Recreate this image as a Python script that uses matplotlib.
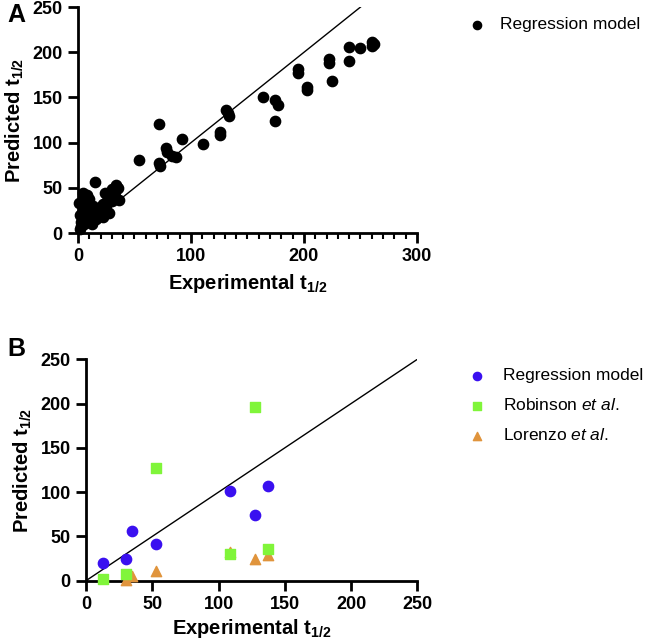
import matplotlib
matplotlib.use('Agg')
import matplotlib.pyplot as plt
from matplotlib.ticker import MultipleLocator

plt.rcParams['font.family'] = ['Liberation Sans', 'DejaVu Sans']
plt.rcParams['mathtext.fontset'] = 'custom'
plt.rcParams['mathtext.rm'] = 'Liberation Sans'
plt.rcParams['mathtext.bf'] = 'Liberation Sans:bold'
plt.rcParams['mathtext.it'] = 'Liberation Sans:italic'

# Panel A: regression model, experimental vs predicted half-life
a_exp = [260, 260, 262, 250, 240, 240, 222, 222, 225, 203, 203, 195, 195,
         174, 177, 164, 174, 131, 133, 134, 126, 126, 111, 92, 72, 54, 78,
         79, 83, 87, 72, 73,
         15, 34, 30, 24, 32, 33, 36, 28, 25, 20, 18, 22, 12, 10, 8, 5, 3, 2,
         1, 4, 6, 9, 14, 16, 19, 23, 27, 30, 11, 13, 7, 2, 3, 5, 17, 21, 26,
         29, 31, 35, 10, 8, 6, 4, 12, 15, 18, 22, 25]
a_pred = [211, 207, 209, 205, 206, 190, 192, 188, 168, 162, 158, 182, 177,
          147, 142, 150, 124, 136, 133, 130, 112, 108, 98, 104, 121, 81, 94,
          90, 85, 84, 78, 74,
          56, 53, 49, 44, 40, 45, 37, 35, 30, 26, 22, 32, 28, 20, 14, 10, 8,
          5, 33, 44, 38, 25, 18, 15, 24, 28, 22, 36, 12, 30, 18, 20, 12, 24,
          26, 30, 36, 42, 47, 50, 38, 42, 30, 36, 10, 16, 20, 18, 26]

# Panel B: comparison with literature models
b_reg_x = [13, 30, 35, 52.5, 109, 127.5, 137]
b_reg_y = [19.5, 24.5, 56.5, 42, 101, 74, 107.5]
b_rob_x = [13, 30, 52.5, 109, 127.5, 137]
b_rob_y = [1.5, 8, 127, 30, 196, 35.5]
b_lor_x = [30, 35, 52.5, 109, 127.5, 137]
b_lor_y = [1, 5, 11, 32, 25, 29]

fig = plt.figure(figsize=(6.5, 6.42), dpi=100)
axA = fig.add_axes([0.12, 0.637, 0.5215, 0.352])
axB = fig.add_axes([0.1323, 0.0955, 0.5097, 0.3448])


def style_axes(ax):
    for s in ['top', 'right']:
        ax.spines[s].set_visible(False)
    for s in ['left', 'bottom']:
        ax.spines[s].set_linewidth(2)
    ax.tick_params(which='major', length=7, width=2, labelsize=13, pad=4)
    ax.tick_params(which='minor', length=4, width=1.5)
    for lab in ax.get_xticklabels() + ax.get_yticklabels():
        lab.set_fontweight('bold')


# ---- A ----
axA.plot([0, 250], [0, 250], color='black', lw=1, zorder=1)
axA.scatter(a_exp, a_pred, s=55, color='black', zorder=3, clip_on=False,
            label='Regression model')
axA.set_xlim(0, 300)
axA.set_ylim(0, 250)
axA.xaxis.set_major_locator(MultipleLocator(100))
axA.xaxis.set_minor_locator(MultipleLocator(10))
axA.yaxis.set_major_locator(MultipleLocator(50))
style_axes(axA)
axA.set_xlabel(r'$\mathbf{Experimental\ t}_{\mathbf{1/2}}$', fontsize=14.5, labelpad=5)
axA.set_ylabel(r'$\mathbf{Predicted\ t}_{\mathbf{1/2}}$', fontsize=14.5, labelpad=5)
axA.legend(loc='upper left', bbox_to_anchor=(1.08, 1.025), frameon=False,
           fontsize=12.5, handletextpad=0.3, markerscale=0.8)
fig.text(0.012, 0.966, 'A', fontsize=18, fontweight='bold')

# ---- B ----
axB.plot([0, 250], [0, 250], color='black', lw=1, zorder=1)
axB.scatter(b_reg_x, b_reg_y, s=55, marker='o', color='#3a10f0', zorder=3,
            clip_on=False, label='Regression model')
axB.scatter(b_rob_x, b_rob_y, s=55, marker='s', color='#80f53a', zorder=4,
            clip_on=False, label='Robinson $\\it{et\\ al}$.')
axB.scatter(b_lor_x, b_lor_y, s=55, marker='^', color='#e0943c', zorder=3,
            clip_on=False, label='Lorenzo $\\it{et\\ al}$.')
axB.set_xlim(0, 250)
axB.set_ylim(0, 250)
axB.xaxis.set_major_locator(MultipleLocator(50))
axB.yaxis.set_major_locator(MultipleLocator(50))
style_axes(axB)
axB.set_xlabel(r'$\mathbf{Experimental\ t}_{\mathbf{1/2}}$', fontsize=14.5, labelpad=3)
axB.set_ylabel(r'$\mathbf{Predicted\ t}_{\mathbf{1/2}}$', fontsize=14.5, labelpad=5)
axB.legend(loc='upper left', bbox_to_anchor=(1.08, 1.03), frameon=False,
           fontsize=12.5, handletextpad=0.5, markerscale=0.8, labelspacing=0.8)
fig.text(0.012, 0.445, 'B', fontsize=18, fontweight='bold')

plt.savefig('out.png', dpi=100)
plt.close()
